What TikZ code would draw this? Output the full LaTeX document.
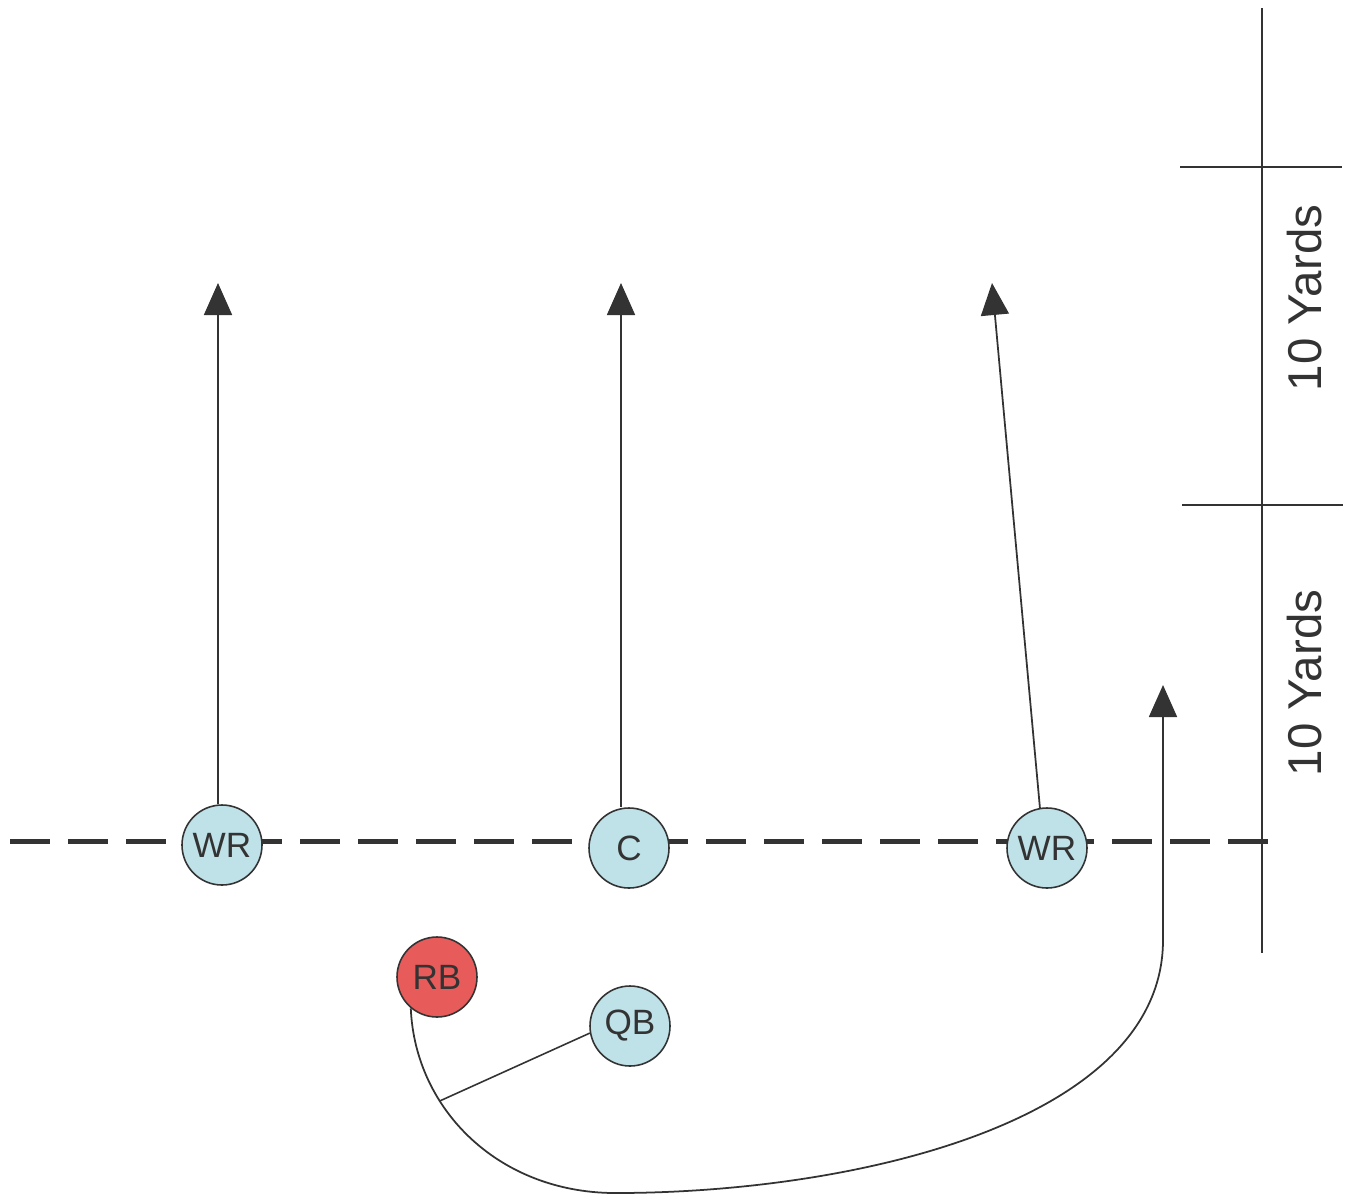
\documentclass[tikz,border=0pt]{standalone}
\usepackage{fontspec}
\setmainfont{Liberation Sans}
\usetikzlibrary{arrows.meta}
\usetikzlibrary{positioning}
\definecolor{ink}{HTML}{333333}
\definecolor{offense}{HTML}{BFE1E8}
\definecolor{back}{HTML}{E85B5B}
\tikzstyle{player} = [circle, minimum size=16mm, inner sep=0pt, draw=ink, line width=0.9pt, fill=offense, text=ink, font=\fontsize{20}{24}\selectfont]
\tikzstyle{runner} = [player, fill=back]
\tikzstyle{route} = [draw=ink, line width=1pt, -{Triangle[length=6.4mm, width=5.6mm]}]
\tikzstyle{marker} = [draw=ink, line width=0.9pt]

\begin{document}
\begin{tikzpicture}[x=0.2mm, y=-0.2mm, node distance=2cm]
\useasboundingbox (0,0) rectangle (1353,1198);

% line of scrimmage
\coordinate (losw) at (10,841);
\coordinate (lose) at (1280,841);
\draw[ink, line width=1mm, dash pattern=on 8mm off 3.6mm] (losw) -- (lose);

% yard markers
\coordinate (top) at (1262,8);
\coordinate (bottom) at (1262,953);
\draw[marker] (top) -- (bottom);
\draw[marker] (1180,167) -- (1342,167);
\draw[marker] (1182,505) -- (1343,505);
\node[rotate=90, text=ink, font=\fontsize{27}{30}\selectfont] (yds1) at (1305,298) {10 Yards};
\node[rotate=90, text=ink, font=\fontsize{27}{30}\selectfont] (yds2) at (1305,683) {10 Yards};

% players
\node (wrl) [player] at (222,845) {WR};
\node (c) [player] at (629,848) {C};
\node (wrr) [player] at (1047,848) {WR};
\node (rb) [runner] at (437,977) {RB};
\node (qb) [player] at (630,1026) {QB};

% routes
\coordinate (wrlend) at (218,283);
\coordinate (cend) at (621,283);
\coordinate (wrrend) at (992,283);
\coordinate (rbend) at (1163,685);
\draw[route] (wrl.north -| wrlend) -- (wrlend);
\draw[route] (c.north -| cend) -- (cend);
\draw[route] (wrr.100) -- (wrrend);
\draw[route] (rb.230) .. controls (415,1110) and (500,1195) .. (620,1193) coordinate[pos=0.33] (handoff)
  .. controls (860,1192) and (1163,1120) .. (1163,940) -- (rbend);

% handoff
\draw[marker] (qb.190) -- (handoff);
\end{tikzpicture}
\end{document}
